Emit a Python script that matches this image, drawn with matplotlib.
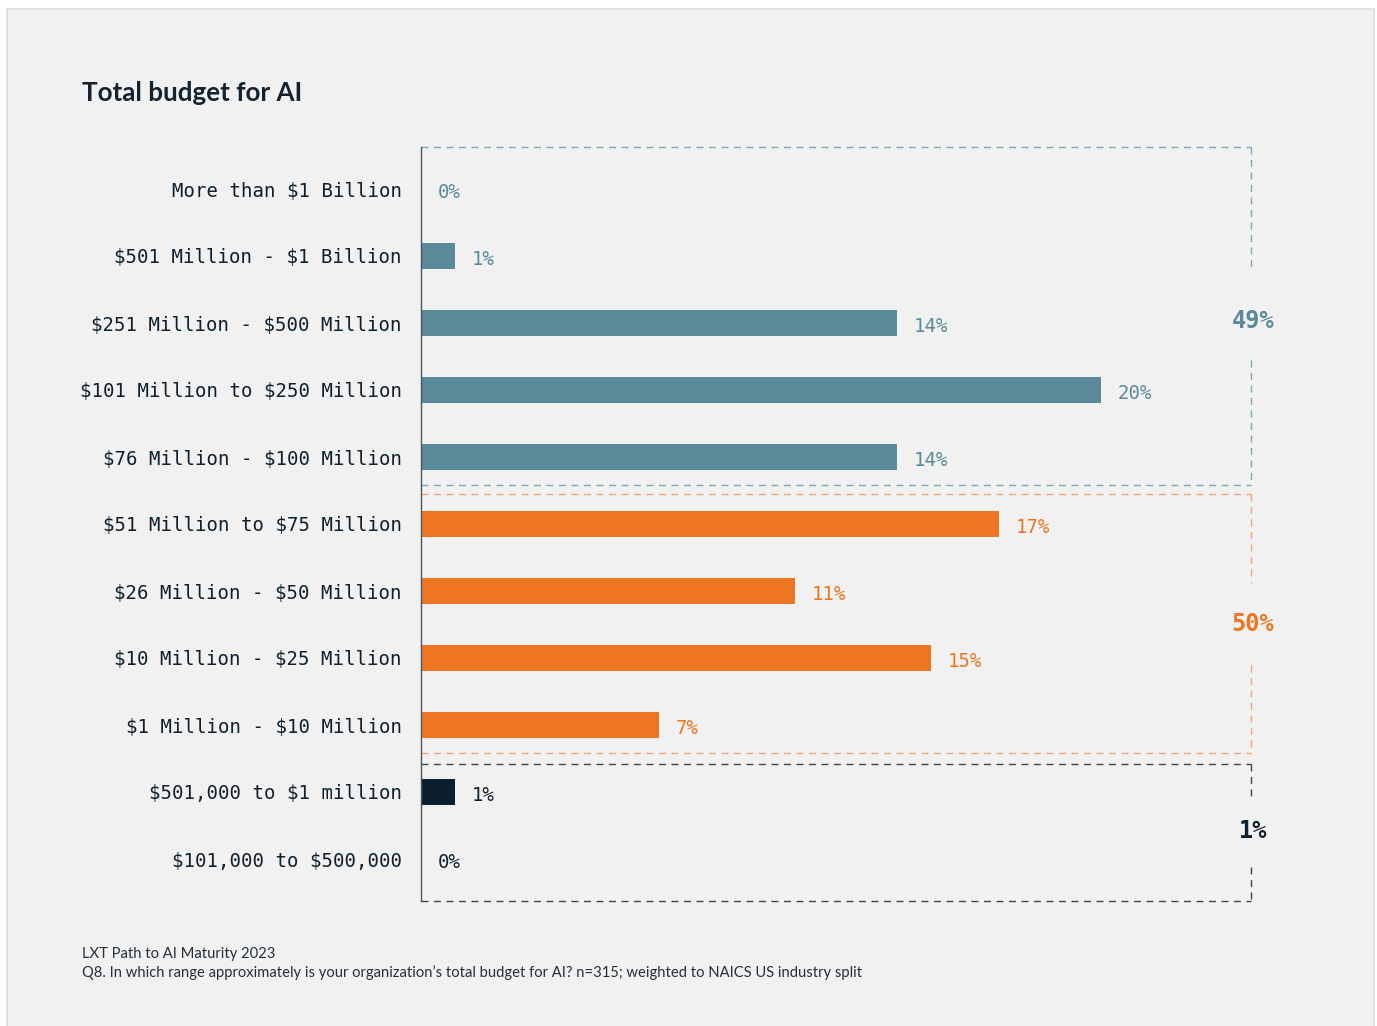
import matplotlib
matplotlib.use("Agg")
import matplotlib.pyplot as plt
from matplotlib.patches import Rectangle

# dollar signs in the labels are literal, not mathtext
plt.rcParams["text.parse_math"] = False

# budget ranges, top to bottom
categories = [
    "More than $1 Billion",
    "$501 Million - $1 Billion",
    "$251 Million - $500 Million",
    "$101 Million to $250 Million",
    "$76 Million - $100 Million",
    "$51 Million to $75 Million",
    "$26 Million - $50 Million",
    "$10 Million - $25 Million",
    "$1 Million - $10 Million",
    "$501,000 to $1 million",
    "$101,000 to $500,000",
]
values = [0, 1, 14, 20, 14, 17, 11, 15, 7, 1, 0]
group_of = [0, 0, 0, 0, 0, 1, 1, 1, 1, 2, 2]
group_totals = ["49%", "50%", "1%"]

BG = "#f0f1f0"
NAVY = "#10202d"
bar_colors = ["#5a8a99", "#ee7623", "#0d1f2d"]
text_colors = ["#5a8a99", "#ee7623", "#10202d"]
dash_colors = ["#7fa7b5", "#f4a57c", "#3b4753"]

W, H = 1377, 1026
fig = plt.figure(figsize=(W / 100, H / 100), dpi=100, facecolor="white")

def fx(px):
    return px / W

def fy(py):
    return 1 - py / H

# grey panel with thin border
fig.patches.append(Rectangle((fx(7), fy(1030)), fx(1374 - 7), (1030 - 9) / H,
                             transform=fig.transFigure, facecolor=BG,
                             edgecolor="#dcdcdc", linewidth=1.2, zorder=-5))

ax = fig.add_axes([fx(421), fy(901), fx(1251 - 421), (901 - 147) / H])
ax.set_facecolor("none")
ax.set_zorder(2)

mono = "DejaVu Sans Mono"
n = len(categories)
ypos = list(range(n))
ax.barh(ypos, values, height=0.40,
        color=[bar_colors[g] for g in group_of], zorder=2)

for y, v, g in zip(ypos, values, group_of):
    ax.annotate(f"{v}%", (v, y), xytext=(12, -1), textcoords="offset points",
                ha="left", va="center_baseline", fontsize=13.7, family=mono,
                color=text_colors[g])

top_lim = -42 / 67
bot_lim = n - 1 + 42 / 67
xmax = (1251 - 421) / 34
ax.set_xlim(0, xmax)
ax.set_ylim(bot_lim, top_lim)

ax.set_yticks(ypos)
ax.set_yticklabels(categories, family=mono, fontsize=13.7, color=NAVY,
                   va="center_baseline")
ax.tick_params(axis="y", length=0, pad=14)
ax.set_xticks([])
for side in ["top", "right", "bottom"]:
    ax.spines[side].set_visible(False)
ax.spines["left"].set_color("#4a5661")
ax.spines["left"].set_linewidth(1.0)
ax.spines["left"].set_zorder(3)

# dashed group boxes: (top, bottom, gap start, gap end, total label row)
boxes = [
    (top_lim, 4 + 28 / 67, 1.21, 2.55, 1.93),
    (4 + 37 / 67, 8 + 28 / 67, 5.88, 7.10, 6.46),
    (8 + 39 / 67, bot_lim, 9.12, 10.12, 9.55),
]
dash = (0, (5, 4))
for g, (t, b, g0, g1, ly) in enumerate(boxes):
    c = dash_colors[g]
    kw = dict(color=c, linewidth=1.0, linestyle=dash, clip_on=False, zorder=1)
    ax.plot([0, xmax], [t, t], **kw)
    ax.plot([0, xmax], [b, b], **kw)
    ax.plot([xmax, xmax], [t, g0], **kw)
    ax.plot([xmax, xmax], [g1, b], **kw)
    ax.text(xmax + 0.05, ly, group_totals[g], ha="center",
            va="center_baseline", fontsize=17, fontweight="bold", family=mono,
            color=text_colors[g], clip_on=False)

fig.text(fx(82), fy(93), "Total budget for AI", ha="left", va="center",
         fontsize=18.7, fontweight="bold", family="Lato", color="#14232f")
fig.text(fx(82), fy(954), "LXT Path to AI Maturity 2023", ha="left",
         va="center", fontsize=10.6, family="Lato", color="#22303b")
fig.text(fx(82), fy(973),
         "Q8. In which range approximately is your organization\u2019s total "
         "budget for AI? n=315; weighted to NAICS US industry split",
         ha="left", va="center", fontsize=10.6, family="Lato", color="#22303b")

fig.savefig("out.png", dpi=100, facecolor="white")
